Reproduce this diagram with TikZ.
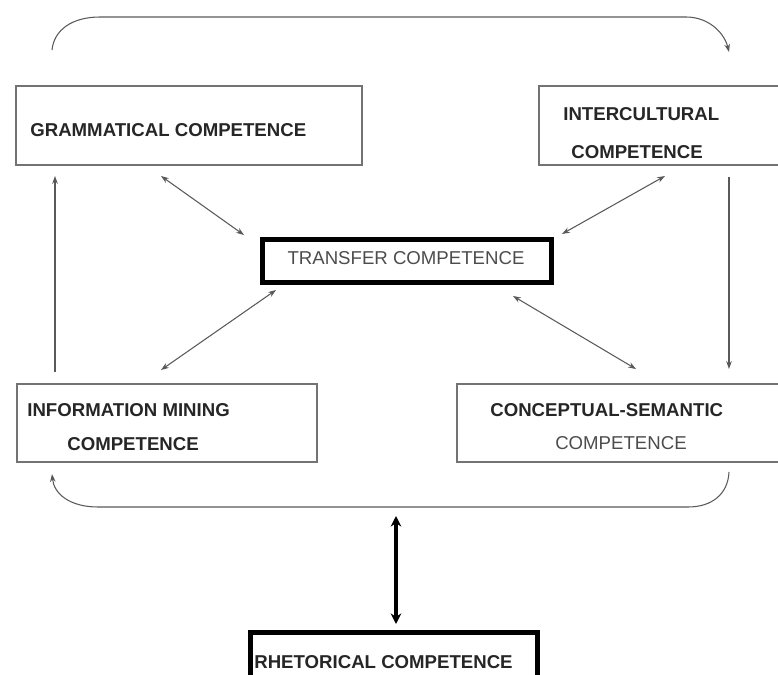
\documentclass[tikz,border=0pt]{standalone}
\usepackage{fontspec}
\setmainfont{Liberation Sans}
\usetikzlibrary{arrows.meta}
\begin{document}
\begin{tikzpicture}[x=0.02cm,y=-0.02cm,
  box/.style={draw=black!55, line width=0.9pt, inner sep=0pt, anchor=north west},
  thickbox/.style={draw=black, line width=2.6pt, inner sep=0pt, anchor=north west},
  lbl/.style={font=\fontsize{10.6}{12}\selectfont\bfseries, text=black!85, inner sep=0pt, anchor=west},
  plainlbl/.style={font=\fontsize{10.6}{12}\selectfont, text=black!70, inner sep=0pt},
  conn/.style={draw=black!65, line width=0.6pt},
  tip/.style={-{Stealth[length=4.5pt,width=3.2pt]}},
  dtip/.style={{Stealth[length=4.5pt,width=3.2pt]}-{Stealth[length=4.5pt,width=3.2pt]}},
  bigtip/.style={line width=2.2pt, {Stealth[length=6pt,width=6pt]}-{Stealth[length=6pt,width=6pt]}},
]
\useasboundingbox (0,0) rectangle (778,675);

% boxes
\node[box, minimum width=6.92cm, minimum height=1.58cm] (gram) at (15,85) {};
\node[box, minimum width=5.04cm, minimum height=1.58cm] (inter) at (538,85) {};
\node[thickbox, minimum width=5.78cm, minimum height=0.86cm] (trans) at (260,237) {};
\node[box, minimum width=6.0cm, minimum height=1.56cm] (info) at (16,383) {};
\node[box, minimum width=6.68cm, minimum height=1.56cm] (conc) at (456,383) {};
\node[thickbox, minimum width=5.74cm, minimum height=1.4cm] (rhet) at (248,630) {};

% texts
\node[lbl] (gramt) at (30,130) {GRAMMATICAL COMPETENCE};
\node[lbl] (intert1) at (563,114) {INTERCULTURAL};
\node[lbl] (intert2) at (571,152) {COMPETENCE};
\node[plainlbl] (transt) at (406,258) {TRANSFER COMPETENCE};
\node[lbl] (infot1) at (27,410) {INFORMATION MINING};
\node[lbl] (infot2) at (67,444) {COMPETENCE};
\node[lbl] (conct1) at (490,410) {CONCEPTUAL-SEMANTIC};
\node[plainlbl] (conct2) at (621,443) {COMPETENCE};
\node[lbl] (rhett) at (254,662) {RHETORICAL COMPETENCE};

% connector end points
\coordinate (tl) at (52,50);
\coordinate (tre) at (729,52);
\coordinate (lvb) at (55,372);
\coordinate (lvt) at (55,176);
\coordinate (rvt) at (729,177);
\coordinate (rvb) at (729,369);
\coordinate (g1) at (161,176);
\coordinate (g2) at (244,235);
\coordinate (i1) at (665,176);
\coordinate (i2) at (562,234);
\coordinate (m1) at (276,290);
\coordinate (m2) at (161,370);
\coordinate (c1) at (513,296);
\coordinate (c2) at (636,369);
\coordinate (br) at (729,472);
\coordinate (ble) at (52,474);
\coordinate (r1) at (396,516);
\coordinate (r2) at (396,624);

% connectors
\draw[conn, tip] (tl) .. controls (54,30) and (72,17) .. (100,17)
   -- (686,17) .. controls (708,17) and (724,32) .. (tre);
\draw[conn, tip] (lvb) -- (lvt);
\draw[conn, tip] (rvt) -- (rvb);
\draw[conn, dtip] (g1) -- (g2);
\draw[conn, dtip] (i1) -- (i2);
\draw[conn, dtip] (m1) -- (m2);
\draw[conn, dtip] (c1) -- (c2);
\draw[conn, tip] (br) .. controls (728,494) and (712,507) .. (688,507)
   -- (98,507) .. controls (70,507) and (54,494) .. (ble);
\draw[bigtip] (r1) -- (r2);
\end{tikzpicture}
\end{document}
